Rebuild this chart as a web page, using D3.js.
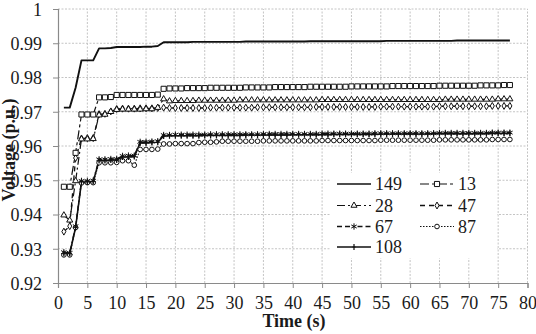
<!DOCTYPE html>
<html><head><meta charset="utf-8">
<script src="https://cdn.jsdelivr.net/npm/d3@7"></script>
<style>
html,body{margin:0;padding:0;background:#fff;}
svg{display:block;}
</style></head>
<body><svg id="c" width="536" height="334" font-family="Liberation Serif"></svg>
<script>
const time = [1,2,3,4,5,6,7,8,9,10,11,12,13,14,15,16,17,18,19,20,21,22,23,24,25,26,27,28,29,30,31,32,33,34,35,36,37,38,39,40,41,42,43,44,45,46,47,48,49,50,51,52,53,54,55,56,57,58,59,60,61,62,63,64,65,66,67,68,69,70,71,72,73,74,75,76,77];

const s149 = [0.9712,0.9712,0.9770,0.9850,0.9850,0.9850,0.9885,0.9885,0.9886,0.9889,
0.9889,0.9889,0.9889,0.9889,0.9890,0.9890,0.9892,0.9903,0.9903,0.9903,
0.9903,0.9903,0.9904,0.9904,0.9904,0.9904,0.9904,0.9904,0.9904,0.9904,
0.9904,0.9905,0.9905,0.9905,0.9905,0.9905,0.9905,0.9905,0.9905,0.9905,
0.9905,0.9905,0.9906,0.9906,0.9906,0.9906,0.9906,0.9906,0.9906,0.9906,
0.9906,0.9906,0.9906,0.9906,0.9906,0.9907,0.9907,0.9907,0.9907,0.9907,
0.9907,0.9907,0.9907,0.9907,0.9907,0.9907,0.9907,0.9908,0.9908,0.9908,
0.9908,0.9908,0.9908,0.9908,0.9908,0.9908,0.9908];

const s13 = [0.9481,0.9481,0.9580,0.9692,0.9692,0.9692,0.9742,0.9742,0.9743,0.9749,
0.9749,0.9749,0.9749,0.9749,0.9749,0.9749,0.9750,0.9767,0.9768,0.9768,
0.9768,0.9769,0.9769,0.9769,0.9769,0.9770,0.9770,0.9770,0.9770,0.9770,
0.9770,0.9771,0.9771,0.9771,0.9771,0.9771,0.9772,0.9772,0.9772,0.9772,
0.9772,0.9772,0.9773,0.9773,0.9773,0.9773,0.9773,0.9773,0.9773,0.9774,
0.9774,0.9774,0.9774,0.9774,0.9774,0.9774,0.9775,0.9775,0.9775,0.9775,
0.9775,0.9775,0.9775,0.9775,0.9776,0.9776,0.9776,0.9776,0.9776,0.9776,
0.9776,0.9777,0.9777,0.9777,0.9777,0.9778,0.9778];

const s28 = [0.9398,0.9383,0.9498,0.9620,0.9620,0.9621,0.9690,0.9692,0.9700,0.9706,
0.9707,0.9707,0.9707,0.9707,0.9708,0.9708,0.9712,0.9737,0.9731,0.9732,
0.9732,0.9732,0.9732,0.9733,0.9733,0.9733,0.9733,0.9733,0.9733,0.9733,
0.9734,0.9734,0.9734,0.9734,0.9734,0.9734,0.9734,0.9734,0.9734,0.9734,
0.9734,0.9734,0.9734,0.9734,0.9735,0.9735,0.9735,0.9735,0.9735,0.9735,
0.9735,0.9735,0.9735,0.9735,0.9735,0.9735,0.9735,0.9735,0.9735,0.9735,
0.9735,0.9735,0.9735,0.9735,0.9735,0.9736,0.9736,0.9736,0.9736,0.9736,
0.9736,0.9736,0.9736,0.9736,0.9737,0.9737,0.9737];

const s47 = [0.9350,0.9366,0.9565,0.9622,0.9623,0.9623,0.9693,0.9694,0.9701,0.9708,
0.9709,0.9709,0.9709,0.9710,0.9710,0.9710,0.9711,0.9712,0.9711,0.9711,
0.9711,0.9711,0.9711,0.9711,0.9711,0.9712,0.9712,0.9712,0.9712,0.9712,
0.9712,0.9712,0.9712,0.9713,0.9713,0.9713,0.9713,0.9713,0.9713,0.9713,
0.9713,0.9713,0.9713,0.9714,0.9714,0.9714,0.9714,0.9714,0.9714,0.9714,
0.9714,0.9714,0.9714,0.9714,0.9715,0.9715,0.9715,0.9715,0.9715,0.9715,
0.9715,0.9715,0.9715,0.9715,0.9716,0.9716,0.9716,0.9716,0.9716,0.9716,
0.9716,0.9716,0.9716,0.9717,0.9717,0.9717,0.9717];

const s67 = [0.9290,0.9288,0.9366,0.9498,0.9498,0.9499,0.9561,0.9561,0.9562,0.9562,
0.9571,0.9572,0.9572,0.9612,0.9612,0.9613,0.9614,0.9632,0.9632,0.9633,
0.9633,0.9633,0.9633,0.9633,0.9633,0.9634,0.9634,0.9634,0.9634,0.9634,
0.9634,0.9634,0.9634,0.9634,0.9635,0.9635,0.9635,0.9635,0.9635,0.9635,
0.9635,0.9635,0.9635,0.9635,0.9636,0.9636,0.9636,0.9636,0.9636,0.9636,
0.9636,0.9636,0.9636,0.9637,0.9637,0.9637,0.9637,0.9637,0.9637,0.9637,
0.9637,0.9637,0.9637,0.9637,0.9638,0.9638,0.9638,0.9638,0.9638,0.9638,
0.9638,0.9638,0.9638,0.9639,0.9639,0.9639,0.9639];

const s87 = [0.9282,0.9282,0.9362,0.9492,0.9493,0.9493,0.9551,0.9551,0.9551,0.9552,
0.9557,0.9557,0.9544,0.9590,0.9590,0.9590,0.9591,0.9606,0.9606,0.9607,
0.9607,0.9607,0.9607,0.9610,0.9611,0.9611,0.9612,0.9614,0.9614,0.9614,
0.9614,0.9614,0.9614,0.9614,0.9615,0.9615,0.9615,0.9615,0.9615,0.9615,
0.9615,0.9615,0.9615,0.9615,0.9616,0.9616,0.9616,0.9616,0.9616,0.9616,
0.9616,0.9616,0.9616,0.9616,0.9617,0.9617,0.9617,0.9617,0.9617,0.9617,
0.9617,0.9617,0.9617,0.9617,0.9618,0.9618,0.9618,0.9618,0.9618,0.9618,
0.9618,0.9618,0.9618,0.9619,0.9619,0.9619,0.9619];

const s108 = [0.9286,0.9286,0.9362,0.9495,0.9495,0.9496,0.9558,0.9558,0.9559,0.9559,
0.9568,0.9568,0.9569,0.9609,0.9609,0.9610,0.9611,0.9629,0.9630,0.9630,
0.9630,0.9630,0.9630,0.9630,0.9631,0.9631,0.9631,0.9631,0.9631,0.9631,
0.9631,0.9632,0.9632,0.9632,0.9632,0.9632,0.9632,0.9632,0.9632,0.9633,
0.9633,0.9633,0.9633,0.9633,0.9633,0.9633,0.9634,0.9634,0.9634,0.9634,
0.9634,0.9634,0.9634,0.9634,0.9635,0.9635,0.9635,0.9635,0.9635,0.9635,
0.9635,0.9635,0.9635,0.9636,0.9636,0.9636,0.9636,0.9636,0.9636,0.9636,
0.9636,0.9636,0.9636,0.9637,0.9637,0.9637,0.9637];

const seriesNames = ["149","13","28","47","67","87","108"];
const xTicks = [0,5,10,15,20,25,30,35,40,45,50,55,60,65,70,75,80];
const yTicks = [0.92,0.93,0.94,0.95,0.96,0.97,0.98,0.99,1];
const xTitle = "Time (s)";
const yTitle = "Voltage (p.u.)";

const ink = "#111";
const FONT = "Liberation Serif";
const svg = d3.select("#c");
const x = d3.scaleLinear().domain([0,80]).range([58,527.5]);
const y = d3.scaleLinear().domain([0.92,1]).range([283,9]);

// grid
const grid = svg.append("g");
grid.selectAll("line.h").data(yTicks.slice(1)).join("line")
  .attr("x1", x(0)).attr("x2", x(80)).attr("y1", d=>y(d)).attr("y2", d=>y(d))
  .attr("stroke","#c4c4c4").attr("stroke-width",1).attr("stroke-dasharray","2,1.5");
grid.selectAll("line.v").data(xTicks.slice(1)).join("line")
  .attr("x1", d=>x(d)).attr("x2", d=>x(d)).attr("y1", y(0.92)).attr("y2", y(1))
  .attr("stroke","#c4c4c4").attr("stroke-width",1).attr("stroke-dasharray","2,1.5");

// axes
const xAxis = d3.axisBottom(x).tickValues(xTicks).tickSize(5).tickFormat(d3.format("d"));
const yAxis = d3.axisLeft(y).tickValues(yTicks).tickSize(5).tickFormat(d=> d===1 ? "1" : d3.format(".2f")(d));
const gx = svg.append("g").attr("transform",`translate(0,${y(0.92)})`).call(xAxis);
const gy = svg.append("g").attr("transform",`translate(${x(0)},0)`).call(yAxis);
[gx,gy].forEach(g=>{
  g.attr("font-family",FONT).attr("font-size",18);
  g.select(".domain").attr("stroke","#8a8a8a").attr("stroke-width",1.2);
  g.selectAll(".tick line").attr("stroke","#8a8a8a").attr("stroke-width",1);
  g.selectAll("text").attr("font-family",FONT).attr("font-size",18).attr("fill","#1a1a1a");
});
gx.selectAll("text").attr("y",13).attr("dy","0.71em");
gy.selectAll("text").attr("x",-16).attr("dy","0.35em");

svg.append("text").attr("x",294).attr("y",327).attr("text-anchor","middle")
  .attr("font-family",FONT).attr("font-size",18).attr("font-weight","bold").attr("fill","#1a1a1a").text(xTitle);
svg.append("text").attr("transform","translate(15,150) rotate(-90)").attr("text-anchor","middle")
  .attr("font-family",FONT).attr("font-size",18).attr("font-weight","bold").attr("fill","#1a1a1a").text(yTitle);

const allSeries = {"149":s149,"13":s13,"28":s28,"47":s47,"67":s67,"87":s87,"108":s108};
const style = {
  "149": {dash:null, w:1.9, sym:null},
  "13":  {dash:"9,3,3,3", w:1.2, sym:d3.symbolSquare, size:26, fill:"#fff"},
  "28":  {dash:"8,3,2,3", w:1.2, sym:d3.symbolTriangle, size:16, fill:"#fff"},
  "47":  {dash:"5,4", w:1.3, sym:d3.symbolDiamond, size:14, fill:"#fff"},
  "67":  {dash:"5,3,5,3,1.5,3", w:1.3, sym:d3.symbolAsterisk, size:28, fill:"none"},
  "87":  {dash:"1.5,1.5", w:1.1, sym:d3.symbolCircle, size:17, fill:"#fff"},
  "108": {dash:null, w:1.6, sym:"tick"}
};
const line = d3.line().x((d,i)=>x(time[i])).y(d=>y(d));
const drawOrder = ["87","108","67","47","28","13","149"];
drawOrder.forEach(k=>{
  const st = style[k];
  svg.append("path").datum(allSeries[k]).attr("d",line).attr("fill","none")
    .attr("stroke",ink).attr("stroke-width",st.w).attr("stroke-dasharray",st.dash)
    .attr("stroke-linejoin","round");
});
function drawMarker(g, k, cx, cy){
  const st = style[k];
  if(!st.sym) return;
  if(st.sym==="tick"){
    g.append("path").attr("d",`M${cx},${cy-3}V${cy+3}M${cx-1.5},${cy}H${cx+1.5}`).attr("stroke",ink).attr("stroke-width",1.2);
    return;
  }
  g.append("path").attr("d",d3.symbol().type(st.sym).size(st.size)())
    .attr("transform",`translate(${cx},${cy})`)
    .attr("fill",st.fill).attr("stroke",ink).attr("stroke-width",1);
}
drawOrder.forEach(k=>{
  const g = svg.append("g");
  allSeries[k].forEach((v,i)=>drawMarker(g,k,x(time[i]),y(v)));
});

// legend
const lg = svg.append("g");
lg.append("rect").attr("x",330).attr("y",173).attr("width",167).attr("height",85).attr("fill","#fff");
const legendPos = [
  ["149",337,184],["13",420,184],
  ["28",337,205.5],["47",420,205.5],
  ["67",337,226.5],["87",420,226.5],
  ["108",337,247]
];
legendPos.forEach(([k,lx,ly])=>{
  const st = style[k];
  const len = 34;
  lg.append("line").attr("x1",lx).attr("x2",lx+len).attr("y1",ly).attr("y2",ly)
    .attr("stroke",ink).attr("stroke-width",Math.min(st.w,1.6)).attr("stroke-dasharray",st.dash);
  drawMarker(lg,k,lx+len/2,ly);
  lg.append("text").attr("x",lx+len+4).attr("y",ly).attr("dy","0.35em")
    .attr("font-family",FONT).attr("font-size",18).attr("fill","#1a1a1a").text(k);
});
</script></body></html>
